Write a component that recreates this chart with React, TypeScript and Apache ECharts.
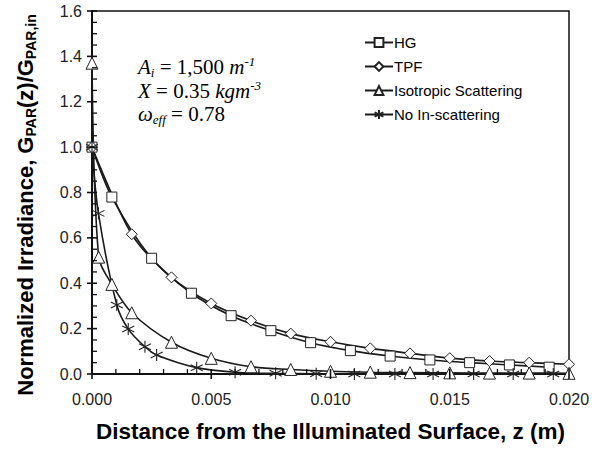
import React, { useEffect, useRef } from "react";
import * as echarts from "echarts";

const hgData: [number, number][] = [
  [0, 1.0], [0.000833, 0.78], [0.0025, 0.51], [0.004167, 0.356], [0.005833, 0.257],
  [0.0075, 0.191], [0.009167, 0.138], [0.010833, 0.103], [0.0125, 0.079],
  [0.014167, 0.062], [0.015833, 0.05], [0.0175, 0.04], [0.019167, 0.03],
];
const tpfData: [number, number][] = [
  [0, 1.0], [0.001667, 0.616], [0.003333, 0.426], [0.005, 0.311], [0.006667, 0.235],
  [0.008333, 0.178], [0.01, 0.142], [0.011667, 0.113], [0.013333, 0.091],
  [0.015, 0.07], [0.016667, 0.057], [0.018333, 0.05], [0.02, 0.043],
];
const isoData: [number, number][] = [
  [0, 1.37], [0.00028, 0.515], [0.000833, 0.395], [0.001667, 0.27], [0.003333, 0.14],
  [0.005, 0.069], [0.006667, 0.032], [0.008333, 0.02], [0.01, 0.012], [0.011667, 0.008],
  [0.013333, 0.006], [0.015, 0.005], [0.016667, 0.004], [0.018333, 0.004], [0.02, 0.003],
];
const noScatData: [number, number][] = [
  [0, 1.0], [0.00027, 0.708], [0.00104, 0.304], [0.00152, 0.198], [0.00222, 0.12],
  [0.00271, 0.084], [0.00439, 0.028], [0.006, 0.008], [0.0077, 0.003], [0.0094, 0.001],
  [0.011, 0.0005], [0.0127, 0], [0.0143, 0], [0.016, 0], [0.01766, 0], [0.01934, 0],
];
const seriesNames = ["HG", "TPF", "Isotropic Scattering", "No In-scattering"];
const xTitle = "Distance from the Illuminated Surface, z (m)";

// tick values (major / minor) of both axes
const xMajorTicks = [0, 0.005, 0.01, 0.015, 0.02];
const xMinorTicks = [
  0.001, 0.002, 0.003, 0.004, 0.006, 0.007, 0.008, 0.009,
  0.011, 0.012, 0.013, 0.014, 0.016, 0.017, 0.018, 0.019,
];
const yMajorTicks = [0, 0.2, 0.4, 0.6, 0.8, 1.0, 1.2, 1.4, 1.6];
const yMinorTicks = [
  0.05, 0.1, 0.15, 0.25, 0.3, 0.35, 0.45, 0.5, 0.55, 0.65, 0.7, 0.75,
  0.85, 0.9, 0.95, 1.05, 1.1, 1.15, 1.25, 1.3, 1.35, 1.45, 1.5, 1.55,
];

const ASTERISK = "path://M5 0 L5 10 M0.7 2.5 L9.3 7.5 M0.7 7.5 L9.3 2.5";
const SANS = "'Liberation Sans', Arial, sans-serif";
const SERIF = "'Liberation Serif', 'Times New Roman', serif";

export default function App() {
  const ref = useRef<HTMLDivElement>(null);
  useEffect(() => {
    if (!ref.current) return;
    const chart = echarts.init(ref.current, undefined, { renderer: "svg" });
    const mk = (name: string, data: [number, number][], symbol: string, size: number) => ({
      name,
      type: "line",
      data,
      symbol,
      symbolSize: size,
      smooth: 0.3,
      showAllSymbol: true,
      lineStyle: { color: "#1a1a1a", width: 1.6 },
      itemStyle: { color: "#fff", borderColor: "#222", borderWidth: 1 },
      z: 3,
    });
    // kind: 0 x-major, 1 x-minor, 2 y-major, 3 y-minor
    const tickData: [number, number][] = [
      ...xMajorTicks.map((v) => [v, 0] as [number, number]),
      ...xMinorTicks.map((v) => [v, 1] as [number, number]),
      ...yMajorTicks.map((v) => [v, 2] as [number, number]),
      ...yMinorTicks.map((v) => [v, 3] as [number, number]),
    ];
    const rich = {
      n: { fontFamily: SERIF, fontSize: 21, lineHeight: 24, fill: "#000" },
      i: { fontFamily: SERIF, fontSize: 21, fontStyle: "italic", lineHeight: 24, fill: "#000" },
      sup: { fontFamily: SERIF, fontSize: 13, fontStyle: "italic", verticalAlign: "top", lineHeight: 12, fill: "#000" },
      sub: { fontFamily: SERIF, fontSize: 13, fontStyle: "italic", verticalAlign: "bottom", lineHeight: 12, fill: "#000" },
    } as any;
    const yRich = {
      a: { fontFamily: SANS, fontSize: 22, fontWeight: "bold", fill: "#000", lineHeight: 26, verticalAlign: "middle" },
      s: { fontFamily: SANS, fontSize: 14, fontWeight: "bold", fill: "#000", lineHeight: 14, verticalAlign: "bottom" },
    } as any;
    chart.setOption({
      animation: false,
      grid: {
        left: 92, right: 32, top: 11, bottom: 76, show: true, borderColor: "#111", borderWidth: 1.5,
        backgroundColor: "transparent", containLabel: false, outerBoundsMode: "none",
      },
      legend: {
        orient: "vertical",
        left: 359,
        top: 30,
        itemWidth: 28,
        itemHeight: 11,
        itemGap: 9,
        data: seriesNames,
        textStyle: { fontFamily: SANS, fontSize: 15, color: "#000", padding: [0, 0, 0, -4] },
      },
      xAxis: {
        type: "value", min: 0, max: 0.02, interval: 0.005,
        name: xTitle,
        nameLocation: "middle", nameGap: 46,
        nameTextStyle: { fontFamily: SANS, fontSize: 22.5, fontWeight: "bold", color: "#000" },
        axisLine: { show: true, lineStyle: { color: "#111", width: 2 } },
        axisTick: { show: false },
        axisLabel: { formatter: (v: number) => v.toFixed(3), fontFamily: SANS, fontSize: 16, color: "#222", margin: 17 },
        splitLine: { show: false },
      },
      yAxis: {
        type: "value", min: 0, max: 1.6, interval: 0.2,
        axisLine: { show: true, lineStyle: { color: "#111", width: 2 } },
        axisTick: { show: false },
        axisLabel: { formatter: (v: number) => v.toFixed(1), fontFamily: SANS, fontSize: 16, color: "#222", margin: 10 },
        splitLine: { show: false },
      },
      series: [
        {
          type: "custom",
          name: "ticks",
          silent: true,
          clip: false,
          z: 4,
          data: tickData,
          encode: { x: 0, y: 1 },
          renderItem: (params: any, api: any) => {
            const v = api.value(0);
            const k = api.value(1);
            const style = { stroke: "#111", lineWidth: k % 2 === 0 ? 1.6 : 1.3 };
            if (k < 2) {
              const p = api.coord([v, 0]);
              const y1 = p[1] - 5;
              const y2 = k === 0 ? p[1] + 5 : p[1];
              return { type: "line", shape: { x1: p[0], y1, x2: p[0], y2 }, style };
            }
            const p = api.coord([0, v]);
            const x1 = k === 2 ? p[0] - 5 : p[0];
            return { type: "line", shape: { x1, y1: p[1], x2: p[0] + 5, y2: p[1] }, style };
          },
        },
        mk(seriesNames[0], hgData, "rect", 10),
        mk(seriesNames[1], tpfData, "diamond", 11),
        mk(seriesNames[2], isoData, "triangle", 12),
        { ...mk(seriesNames[3], noScatData, ASTERISK, 12), itemStyle: { color: "transparent", borderColor: "#222", borderWidth: 1.1 } },
      ],
      graphic: [
        {
          type: "text", x: 25, y: 205, rotation: Math.PI / 2,
          style: { text: "{a|Normalized Irradiance, G}{s|PAR}{a|(z)/G}{s|PAR,in}", rich: yRich, align: "center", verticalAlign: "middle" },
        },
        {
          type: "text", x: 138, y: 67,
          style: { text: "{i|A}{sub|i}{n| = 1,500 }{i|m}{sup|-1}", rich, verticalAlign: "middle" },
        },
        {
          type: "text", x: 138, y: 91,
          style: { text: "{i|X}{n| = 0.35 }{i|kgm}{sup|-3}", rich, verticalAlign: "middle" },
        },
        {
          type: "text", x: 138, y: 114,
          style: { text: "{i|ω}{sub|eff}{n| = 0.78}", rich, verticalAlign: "middle" },
        },
      ],
    });
    return () => chart.dispose();
  }, []);
  return <div ref={ref} style={{ position: "absolute", left: 0, top: 0, width: 601, height: 450 }} />;
}
